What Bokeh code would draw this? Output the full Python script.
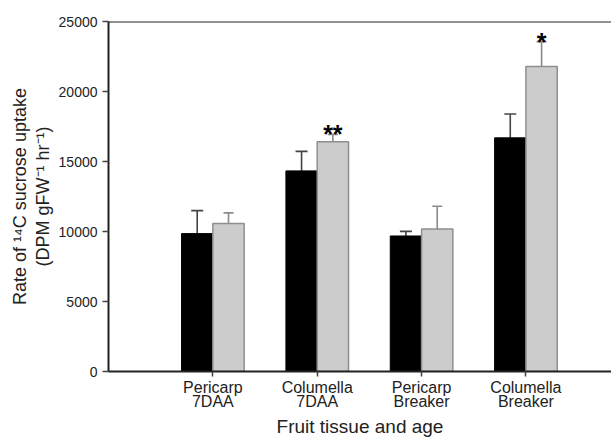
from bokeh.plotting import figure
from bokeh.models import Range1d, FixedTicker, Whisker, ColumnDataSource, Span, TeeHead
from bokeh.core.properties import value
from bokeh.embed import file_html
from bokeh.resources import INLINE

categories = ["Pericarp\n7DAA", "Columella\n7DAA", "Pericarp\nBreaker", "Columella\nBreaker"]
black_vals = [9850, 14330, 9680, 16690]
black_err_top = [11490, 15720, 10010, 18390]
gray_vals = [10570, 16410, 10180, 21790]
gray_err_top = [11330, 16930, 11800, 23560]
sig_labels = ["", "**", "", "*"]
y_ticks = [0, 5000, 10000, 15000, 20000, 25000]

FONT = "Liberation Sans"
TXT = "#222222"

pos = [i + 1 for i in range(len(categories))]
bx = [p_ - 0.15 for p_ in pos]
gx = [p_ + 0.15 for p_ in pos]

p = figure(width=611, height=439,
           output_backend="svg", toolbar_location=None,
           x_range=Range1d(0, 4.82), y_range=Range1d(0, 25000),
           min_border_left=108, min_border_top=21, min_border_right=0, min_border_bottom=65)
p.outline_line_color = None
p.xgrid.visible = False
p.ygrid.visible = False

src_b = ColumnDataSource(dict(x=bx, top=black_vals, up=black_err_top))
src_g = ColumnDataSource(dict(x=gx, top=gray_vals, up=gray_err_top))

p.add_layout(Whisker(source=src_b, base="x", upper="up", lower="top",
                     line_color="#444444", line_width=1.6,
                     upper_head=TeeHead(size=12, line_color="#444444", line_width=1.6),
                     lower_head=None))
p.add_layout(Whisker(source=src_g, base="x", upper="up", lower="top",
                     line_color="#8a8a8a", line_width=1.6,
                     upper_head=TeeHead(size=10, line_color="#8a8a8a", line_width=1.6),
                     lower_head=None))

p.vbar(x="x", top="top", bottom=0, width=0.3, source=src_b,
       fill_color="black", line_color="black", line_width=1)
p.vbar(x="x", top="top", bottom=0, width=0.3, source=src_g,
       fill_color="#cccccc", line_color="#8f8f8f", line_width=1.5)

src_s = ColumnDataSource(dict(x=gx, y=gray_err_top, t=sig_labels))
p.text(x="x", y="y", text="t", source=src_s, text_align="center",
       text_baseline="alphabetic", y_offset=0, text_font=value(FONT),
       text_font_size="25px", text_font_style="bold", text_color="black")

p.add_layout(Span(location=25000, dimension="width", line_color="#222222", line_width=2))

# axes
ya = p.yaxis[0]
ya.ticker = FixedTicker(ticks=y_ticks)
ya.axis_label = "Rate of \u00b9\u2074C sucrose uptake\n(DPM gFW\u207b\u00b9 hr\u207b\u00b9)"
ya.axis_label_text_font = FONT
ya.axis_label_text_font_size = "18px"
ya.axis_label_text_font_style = "normal"
ya.axis_label_text_color = TXT
ya.axis_label_text_line_height = 1.15
ya.axis_label_standoff = 3
ya.major_label_text_font = FONT
ya.major_label_text_font_size = "14px"
ya.major_label_text_color = TXT
ya.major_label_standoff = 5
ya.axis_line_width = 2
ya.axis_line_color = "#222222"
ya.major_tick_in = 0
ya.major_tick_out = 6
ya.major_tick_line_color = "#444444"
ya.major_tick_line_width = 1.5
ya.minor_tick_line_color = None

xa = p.xaxis[0]
xa.ticker = FixedTicker(ticks=pos)
xa.major_label_overrides = {pos[i]: categories[i] for i in range(len(categories))}
xa.axis_label = "Fruit tissue and age"
xa.axis_label_text_font = FONT
xa.axis_label_text_font_size = "19px"
xa.axis_label_text_font_style = "normal"
xa.axis_label_text_color = TXT
xa.axis_label_standoff = 3
xa.major_label_text_font = FONT
xa.major_label_text_font_size = "16px"
xa.major_label_text_color = TXT
xa.major_label_text_line_height = 0.85
xa.major_label_standoff = 2
xa.axis_line_width = 2
xa.axis_line_color = "#222222"
xa.major_tick_in = 0
xa.major_tick_out = 5
xa.major_tick_line_color = "#444444"
xa.major_tick_line_width = 1.5
xa.minor_tick_line_color = None

open("out.html", "w").write(file_html(p, INLINE))
